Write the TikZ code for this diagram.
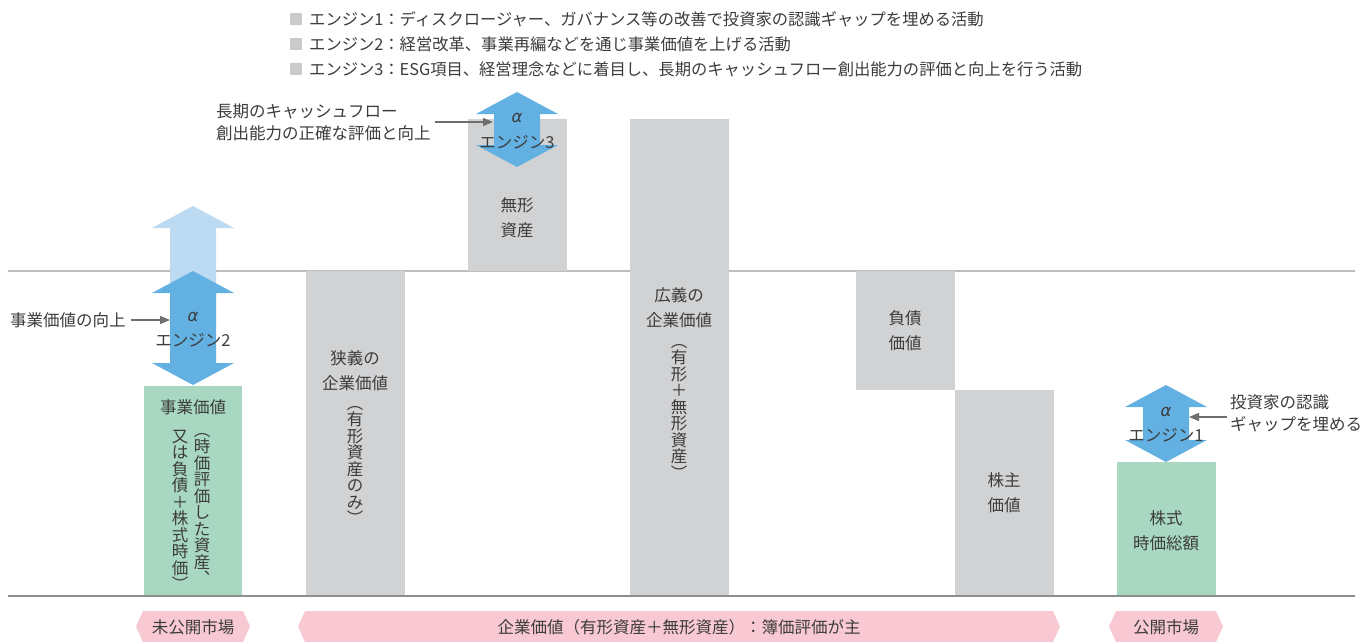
\documentclass[tikz,border=0pt]{standalone}
\usepackage{fontspec}
\setmainfont{Noto Sans CJK JP}
\newfontfamily\grkfont{DejaVu Sans}
\usetikzlibrary{arrows.meta}
\definecolor{bargray}{HTML}{D1D2D4}
\definecolor{bargreen}{HTML}{A8D8C1}
\definecolor{arrowblue}{HTML}{63B1E3}
\definecolor{lightblue}{HTML}{BCDAF1}
\definecolor{bannerpink}{HTML}{F8C9D3}
\definecolor{txt}{HTML}{3C3C3C}
\definecolor{pointer}{HTML}{6E6E6E}
\definecolor{legendsq}{HTML}{C9CACC}
\definecolor{uplinecol}{HTML}{BDBDBD}
\definecolor{baselinecol}{HTML}{8E8E8E}
\newcommand{\dblarrow}[4]{%
  \fill[#4] (#1,#2) -- ({#1+41},{#2+22}) -- ({#1+23},{#2+22}) -- ({#1+23},{#3-22})
    -- ({#1+41},{#3-22}) -- (#1,#3) -- ({#1-41},{#3-22}) -- ({#1-23},{#3-22})
    -- ({#1-23},{#2+22}) -- ({#1-41},{#2+22}) -- cycle;}
\newcommand{\bannershape}[3]{% left, right, style
  \fill[#3] (#1,626.5) -- ({#1+7},611) -- ({#2-7},611) -- (#2,626.5) -- ({#2-7},642) -- ({#1+7},642) -- cycle;}
\newcommand{\alphasym}{{\grkfont\itshape α}}
\begin{document}
\begin{tikzpicture}[x=1pt,y=-1pt,
  lbl/.style={inner sep=0pt, text=txt, font=\fontsize{16.5}{25}\selectfont, align=center},
  vlbl/.style={inner sep=0pt, text=txt, font=\fontsize{16.5}{16.5}\selectfont, align=center, anchor=north},
  note/.style={inner sep=0pt, text=txt, font=\fontsize{16.5}{22}\selectfont, align=left, anchor=west},
  legendtxt/.style={inner sep=0pt, text=txt, font=\fontsize{16.3}{20}\selectfont, anchor=west},
  barfill/.style={fill=bargray},
  greenfill/.style={fill=bargreen},
  pointerarrow/.style={draw=pointer, line width=1.3pt, -{Triangle[length=10pt,width=8pt]}},
]
\useasboundingbox (0,0) rectangle (1369,642);
\fill[white] (0,0) rectangle (1369,642);

% legend
\foreach \yy in {19,44,69} {\fill[legendsq] (290,{\yy-6}) rectangle (302,{\yy+6});}
\node[legendtxt] (leg1) at (309,19) {エンジン1：ディスクロージャー、ガバナンス等の改善で投資家の認識ギャップを埋める活動};
\node[legendtxt] (leg2) at (309,44) {エンジン2：経営改革、事業再編などを通じ事業価値を上げる活動};
\node[legendtxt] (leg3) at (309,69) {エンジン3：ESG項目、経営理念などに着目し、長期のキャッシュフロー創出能力の評価と向上を行う活動};

% upper reference line
\draw[uplinecol, line width=1.5pt] (8,271) -- (1355,271);

% bars
\fill[greenfill] (144,386) rectangle (242,596);
\fill[barfill] (306,271) rectangle (405,596);
\fill[barfill] (468,119) rectangle (567,271);
\fill[barfill] (630,119) rectangle (729,596);
\fill[barfill] (856,271) rectangle (955,390);
\fill[barfill] (955,390) rectangle (1054,596);
\fill[greenfill] (1117,462) rectangle (1216,596);

% base line
\draw[baselinecol, line width=1.5pt] (8,596) -- (1355,596);

% engine arrows
\fill[lightblue] (193,206) -- (234,228) -- (216,228) -- (216,300) -- (170,300) -- (170,228) -- (152,228) -- cycle;
\dblarrow{193}{271}{385}{arrowblue}
\dblarrow{517}{92}{167}{arrowblue}
\dblarrow{1166}{385}{462}{arrowblue}

% arrow labels
\node[lbl] (a2) at (193,317) {\alphasym};
\node[lbl] (e2) at (193,340) {エンジン2};
\node[lbl] (a3) at (517,118) {\alphasym};
\node[lbl] (e3) at (517,142) {エンジン3};
\node[lbl] (a1) at (1166,412) {\alphasym};
\node[lbl] (e1) at (1166,435) {エンジン1};

% bar labels
\node[lbl] (bizv) at (193,407) {事業価値};
\node[vlbl] (bizr) at (202,433) {︵\\時\\価\\評\\価\\し\\た\\資\\産\\︑};
\node[vlbl] (bizl) at (180,430) {又\\は\\負\\債\\＋\\株\\式\\時\\価\\︶};
\node[lbl] (narrow) at (355,370.5) {狭義の\\企業価値};
\node[vlbl] (narrowv) at (355,406) {︵\\有\\形\\資\\産\\の\\み\\︶};
\node[lbl] (intang) at (517,218) {無形\\資産};
\node[lbl] (broad) at (679,308) {広義の\\企業価値};
\node[vlbl] (broadv) at (679,344) {︵\\有\\形\\＋\\無\\形\\資\\産\\︶};
\node[lbl] (debt) at (905,330.5) {負債\\価値};
\node[lbl] (equity) at (1004,493) {株主\\価値};
\node[lbl] (mcap) at (1166,530.5) {株式\\時価総額};

% annotations
\node[note] (t2) at (10,320) {事業価値の向上};
\coordinate (e2in) at (170,320);
\draw[pointerarrow] ([xshift=5pt]t2.east) -- (e2in);

\node[note] (t3) at (216,122) {長期のキャッシュフロー\\創出能力の正確な評価と向上};
\coordinate (e3in) at (493,122);
\draw[pointerarrow] ([xshift=4pt]t3.east) -- (e3in);

\node[note] (t1) at (1230,413) {投資家の認識\\ギャップを埋める};
\coordinate (e1src) at ([xshift=-3pt,yshift=-4pt]t1.west);
\coordinate (e1in) at (1189,417);
\draw[pointerarrow] (e1src) -- (e1in);

% banners
\bannershape{136}{250}{fill=bannerpink}
\bannershape{298}{1060}{fill=bannerpink}
\bannershape{1109}{1223}{fill=bannerpink}
\node[lbl] (m1) at (193,627) {未公開市場};
\node[lbl] (m2) at (679,627) {企業価値（有形資産＋無形資産）：簿価評価が主};
\node[lbl] (m3) at (1166,627) {公開市場};
\end{tikzpicture}
\end{document}
